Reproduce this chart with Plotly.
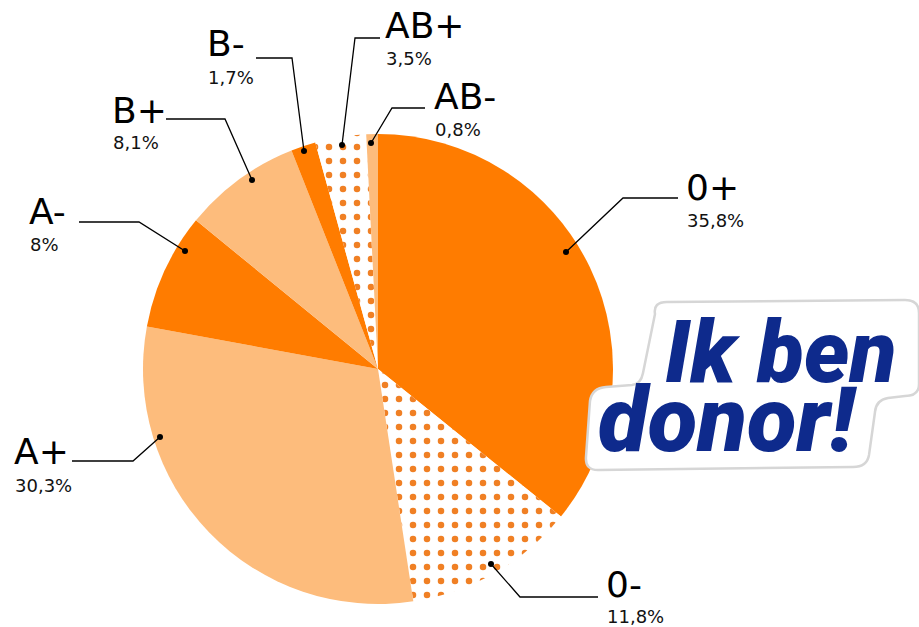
import plotly.graph_objects as go

# ---- data ----
blood_groups = ["0+", "0-", "A+", "A-", "B+", "B-", "AB+", "AB-"]
shares = [35.8, 11.8, 30.3, 8.0, 8.1, 1.7, 3.5, 0.8]
share_text = ["35,8%", "11,8%", "30,3%", "8%", "8,1%", "1,7%", "3,5%", "0,8%"]

# ---- styles ----
DARK = "#FF7C00"
LIGHT = "#FDBC7C"
DOT = "#F08024"
slice_colors = [DARK, "white", LIGHT, DARK, LIGHT, DARK, "white", LIGHT]
slice_patterns = ["", ".", "", "", "", "", ".", ""]

W, H = 919, 627

# label layout (pixel positions): leader dot, knee, line end, text x, big-label centre y, small-label centre y
label_layout = {
    "0+":  dict(dot=(566, 252), knee=(623, 198), end=(678, 198), tx=687, by=187, sy=220),
    "0-":  dict(dot=(491, 564), knee=(520, 597), end=(598, 597), tx=607, by=584, sy=616),
    "A+":  dict(dot=(160, 437), knee=(133, 461), end=(72, 461), tx=15, by=451, sy=485),
    "A-":  dict(dot=(185, 251), knee=(139, 222), end=(79, 222), tx=30, by=211, sy=244),
    "B+":  dict(dot=(252, 180), knee=(225, 119), end=(166, 119), tx=113, by=110, sy=142),
    "B-":  dict(dot=(304, 151), knee=(292, 58), end=(256, 58), tx=208, by=43, sy=77),
    "AB+": dict(dot=(342, 145), knee=(355, 38), end=(380, 38), tx=386, by=25, sy=58),
    "AB-": dict(dot=(371, 143), knee=(392, 108), end=(425, 108), tx=435, by=96, sy=129),
}

fig = go.Figure()

# invisible cartesian helper so shapes/annotations can use pixel coordinates
fig.add_trace(go.Scatter(x=[], y=[], showlegend=False, hoverinfo="skip"))

fig.add_trace(go.Pie(
    labels=blood_groups,
    values=shares,
    sort=False,
    direction="clockwise",
    rotation=0,
    textinfo="none",
    hoverinfo="label+percent",
    showlegend=False,
    marker=dict(
        colors=slice_colors,
        line=dict(width=0),
        pattern=dict(shape=slice_patterns, fgcolor=DOT, fgopacity=1, bgcolor="white",
                     size=14, solidity=0.17, fillmode="overlay"),
    ),
    domain=dict(x=[143 / W, 613 / W], y=[1 - 604 / H, 1 - 134 / H]),
))

shapes = []
annotations = []
FONT = "DejaVu Sans"
for g, t in zip(blood_groups, share_text):
    L = label_layout[g]
    (x0, y0), (x1, y1), (x2, y2) = L["dot"], L["knee"], L["end"]
    shapes.append(dict(type="path", xref="x", yref="y",
                       path=f"M {x0},{y0} L {x1},{y1} L {x2},{y2}",
                       line=dict(color="black", width=1.3), layer="above"))
    shapes.append(dict(type="circle", xref="x", yref="y",
                       x0=x0 - 3, x1=x0 + 3, y0=y0 - 3, y1=y0 + 3,
                       fillcolor="black", line=dict(width=0), layer="above"))
    annotations.append(dict(text=g, x=L["tx"] - 3, y=L["by"], xref="x", yref="y",
                            xanchor="left", yanchor="middle", showarrow=False,
                            font=dict(family=FONT, size=36, color="black")))
    annotations.append(dict(text=t, x=L["tx"] - 2, y=L["sy"], xref="x", yref="y",
                            xanchor="left", yanchor="middle", showarrow=False,
                            font=dict(family=FONT, size=18, color="#111111")))

# "Ik ben donor!" sticker
sticker_path = ("M 655,314 Q 653,302 667,302 L 905,300 Q 919,300 919,313 L 919,384 "
                "Q 919,396 905,396 L 888,398 Q 876,400 875,412 L 869,455 Q 867,467 853,467 "
                "L 598,470 Q 585,470 586,457 L 590,401 Q 592,388 606,387 L 632,385 "
                "Q 641,384 643,373 Z")
shapes.append(dict(type="path", xref="x", yref="y", path=sticker_path,
                   fillcolor="white", line=dict(color="#d6d6d6", width=2.5), layer="above"))
annotations.append(dict(text="Ik ben", x=781, y=352, xref="x", yref="y",
                        xanchor="center", yanchor="middle", showarrow=False,
                        font=dict(family="Roboto", size=86, color="#0E2A8C",
                                  weight=900, style="italic")))
annotations.append(dict(text="donor!", x=728, y=420, xref="x", yref="y",
                        xanchor="center", yanchor="middle", showarrow=False,
                        font=dict(family="Roboto", size=91, color="#0E2A8C",
                                  weight=900, style="italic")))

fig.update_layout(
    width=W, height=H,
    margin=dict(l=0, r=0, t=0, b=0),
    paper_bgcolor="white", plot_bgcolor="rgba(0,0,0,0)",
    xaxis=dict(range=[0, W], visible=False, fixedrange=True, domain=[0, 1]),
    yaxis=dict(range=[H, 0], visible=False, fixedrange=True, domain=[0, 1]),
    shapes=shapes,
    annotations=annotations,
)

fig.write_html("out.html", config={"displayModeBar": False},
               post_script="document.body.style.margin='0';document.body.style.overflow='hidden';")
